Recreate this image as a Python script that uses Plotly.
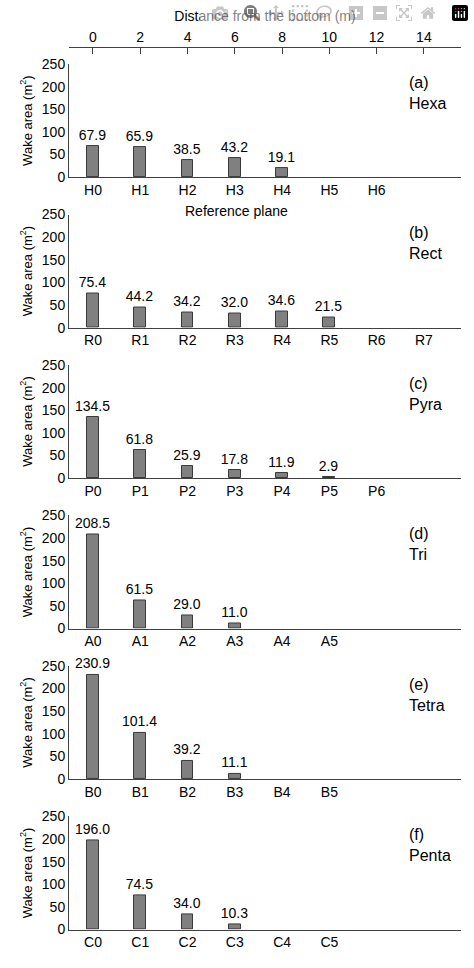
import plotly.graph_objects as go

# Reference planes and wake areas (m^2) for each geometry
panels = ["(a)<br>Hexa", "(b)<br>Rect", "(c)<br>Pyra", "(d)<br>Tri", "(e)<br>Tetra", "(f)<br>Penta"]
planes = [
    ["H0", "H1", "H2", "H3", "H4", "H5", "H6"],
    ["R0", "R1", "R2", "R3", "R4", "R5", "R6", "R7"],
    ["P0", "P1", "P2", "P3", "P4", "P5", "P6"],
    ["A0", "A1", "A2", "A3", "A4", "A5"],
    ["B0", "B1", "B2", "B3", "B4", "B5"],
    ["C0", "C1", "C2", "C3", "C4", "C5"],
]
wake = [
    [67.9, 65.9, 38.5, 43.2, 19.1],
    [75.4, 44.2, 34.2, 32.0, 34.6, 21.5],
    [134.5, 61.8, 25.9, 17.8, 11.9, 2.9],
    [208.5, 61.5, 29.0, 11.0],
    [230.9, 101.4, 39.2, 11.1],
    [196.0, 74.5, 34.0, 10.3],
]
spacing = 2  # m between reference planes
dist_ticks = [0, 2, 4, 6, 8, 10, 12, 14]

W, H = 474, 968
font = "Liberation Sans, Arial, sans-serif"
xr = [-1.015, 15.57]
xdom = [69 / W, 461 / W]

fig = go.Figure()
for i, (lab, cats, vals) in enumerate(zip(panels, planes, wake)):
    n = "" if i == 0 else str(i + 1)
    y0 = 172 + 153 * i
    y1 = 57 + 153 * i
    dom = [1 - y0 / H, 1 - y1 / H]
    fig.add_trace(go.Bar(
        x=[spacing * k for k in range(len(vals))], y=vals,
        xaxis="x" + n, yaxis="y" + n, width=0.5,
        marker=dict(color="#808080", line=dict(color="#3a3a3a", width=1)),
        text=[f"{v:.1f}" for v in vals], textposition="outside", constraintext="none",
        textfont=dict(size=14, color="black"), cliponaxis=False, showlegend=False,
    ))
    fig.layout["xaxis" + n] = dict(
        domain=xdom, range=xr, anchor="y" + n,
        tickvals=[spacing * k for k in range(len(cats))], ticktext=cats,
        showline=True, linecolor="#404040", ticks="", showgrid=False,
        zeroline=False, tickfont=dict(size=14, color="black"), fixedrange=True,
    )
    fig.layout["yaxis" + n] = dict(
        domain=dom, range=[0, 250], anchor="x" + n,
        tickvals=[0, 50, 100, 150, 200, 250],
        showline=True, linecolor="#404040", ticks="", showgrid=False,
        zeroline=False, tickfont=dict(size=14, color="black"),
        title=dict(text="Wake area (m<sup>2</sup>)", font=dict(size=13, color="black"), standoff=6),
    )
    fig.add_annotation(
        text=lab, xref="paper", yref="paper", x=407 / W, y=1 - (y1 + 8) / H,
        xanchor="left", yanchor="top", showarrow=False, align="left",
        font=dict(size=16, color="black"),
    )

# Top distance axis
fig.layout["xaxis7"] = dict(
    overlaying="x", side="top", anchor="free", position=1 - 40 / H,
    range=xr, domain=xdom, tickvals=dist_ticks,
    showline=True, linecolor="#404040", ticks="inside", ticklen=6, tickcolor="#404040",
    showgrid=False, zeroline=False, tickfont=dict(size=14, color="black"),
    title=dict(text="Distance from the bottom (m)", font=dict(size=14, color="black"), standoff=2),
)
fig.add_trace(go.Scatter(x=[0], y=[0], xaxis="x7", yaxis="y", mode="markers",
                         marker=dict(opacity=0), showlegend=False, hoverinfo="skip"))

fig.add_annotation(text="Reference plane", xref="paper", yref="paper", x=236 / W, y=1 - 196 / H,
                   showarrow=False, font=dict(size=14, color="black"))

fig.update_layout(
    width=W, height=H, margin=dict(l=0, r=0, t=0, b=0),
    plot_bgcolor="white", paper_bgcolor="white",
    font=dict(family=font, color="black"), bargap=0,
)
fig.write_html("out.html", post_script="document.body.style.margin='0';")
